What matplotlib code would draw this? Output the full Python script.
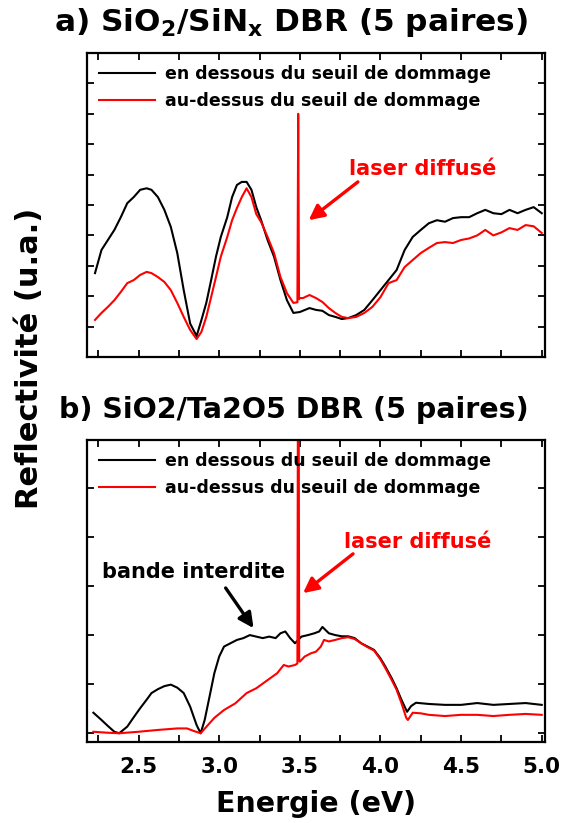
import numpy as np
import matplotlib
matplotlib.use('Agg')
from matplotlib import pyplot as plt
from matplotlib.ticker import MultipleLocator

plt.rcParams['font.family'] = ['DejaVu Sans']
plt.rcParams['font.weight'] = 'bold'
plt.rcParams['mathtext.fontset'] = 'dejavusans'

# a) SiO2/SiNx
a_black_x = [2.23, 2.27, 2.31, 2.35, 2.39, 2.43, 2.47, 2.51, 2.55, 2.58, 2.62, 2.66, 2.70, 2.74,
             2.78, 2.82, 2.86, 2.89, 2.92, 2.95, 2.98, 3.01, 3.05, 3.08, 3.11, 3.14, 3.17, 3.20,
             3.23, 3.26, 3.30, 3.34, 3.38, 3.42, 3.46, 3.50, 3.56, 3.60, 3.64, 3.68, 3.72, 3.76,
             3.80, 3.85, 3.90, 3.95, 4.00, 4.05, 4.10, 4.15, 4.20, 4.25, 4.30, 4.35, 4.40, 4.45,
             4.50, 4.55, 4.60, 4.65, 4.70, 4.75, 4.80, 4.85, 4.90, 4.95, 5.00]
a_black_y = [0.276, 0.352, 0.385, 0.418, 0.46, 0.506, 0.526, 0.55, 0.555, 0.55, 0.526, 0.484, 0.428, 0.342,
             0.22, 0.11, 0.069, 0.122, 0.178, 0.253, 0.33, 0.395, 0.46, 0.526, 0.566, 0.576, 0.576, 0.55,
             0.493, 0.45, 0.385, 0.33, 0.253, 0.187, 0.145, 0.148, 0.161, 0.155, 0.152, 0.138, 0.132, 0.125,
             0.128, 0.138, 0.155, 0.187, 0.22, 0.253, 0.286, 0.352, 0.395, 0.418, 0.44, 0.45, 0.445, 0.457,
             0.46, 0.46, 0.473, 0.484, 0.473, 0.47, 0.484, 0.473, 0.484, 0.493, 0.473]

a_red_x = [2.23, 2.27, 2.31, 2.35, 2.39, 2.43, 2.47, 2.51, 2.55, 2.58, 2.62, 2.66, 2.70, 2.74,
           2.78, 2.82, 2.86, 2.89, 2.92, 2.95, 2.98, 3.01, 3.05, 3.08, 3.11, 3.14, 3.17, 3.20,
           3.23, 3.26, 3.30, 3.34, 3.38, 3.42, 3.46, 3.485, 3.49, 3.495, 3.50, 3.52, 3.56, 3.60,
           3.64, 3.68, 3.72, 3.76, 3.80, 3.85, 3.90, 3.95, 4.00, 4.05, 4.10, 4.15, 4.20, 4.25,
           4.30, 4.35, 4.40, 4.45, 4.50, 4.55, 4.60, 4.65, 4.70, 4.75, 4.80, 4.85, 4.90, 4.95, 5.00]
a_red_y = [0.122, 0.145, 0.165, 0.187, 0.214, 0.243, 0.253, 0.27, 0.28, 0.276, 0.263, 0.247, 0.22, 0.178,
           0.132, 0.089, 0.059, 0.083, 0.132, 0.197, 0.263, 0.33, 0.395, 0.45, 0.49, 0.526, 0.555, 0.526,
           0.47, 0.444, 0.395, 0.342, 0.263, 0.21, 0.178, 0.18, 0.80, 0.19, 0.194, 0.194, 0.204, 0.194,
           0.181, 0.161, 0.145, 0.132, 0.128, 0.132, 0.145, 0.165, 0.197, 0.243, 0.253, 0.296, 0.319, 0.342,
           0.359, 0.375, 0.378, 0.375, 0.385, 0.39, 0.40, 0.418, 0.40, 0.41, 0.424, 0.418, 0.434, 0.43, 0.408]

# b) SiO2/Ta2O5
b_black_x = [2.22, 2.27, 2.31, 2.35, 2.38, 2.43, 2.47, 2.51, 2.55, 2.58, 2.62, 2.66, 2.70, 2.74,
             2.78, 2.82, 2.86, 2.885, 2.91, 2.94, 2.97, 3.00, 3.03, 3.07, 3.11, 3.15, 3.19, 3.23,
             3.27, 3.31, 3.35, 3.38, 3.41, 3.44, 3.47, 3.51, 3.55, 3.59, 3.62, 3.64, 3.68, 3.72,
             3.76, 3.80, 3.84, 3.88, 3.92, 3.96, 4.00, 4.03, 4.07, 4.10, 4.13, 4.165, 4.19, 4.22,
             4.30, 4.40, 4.50, 4.60, 4.70, 4.80, 4.90, 5.00]
b_black_y = [0.097, 0.073, 0.053, 0.034, 0.029, 0.051, 0.082, 0.112, 0.14, 0.162, 0.175, 0.185, 0.19, 0.18,
             0.162, 0.117, 0.056, 0.029, 0.073, 0.15, 0.228, 0.283, 0.316, 0.327, 0.338, 0.344, 0.354, 0.349,
             0.344, 0.349, 0.344, 0.36, 0.366, 0.344, 0.327, 0.349, 0.354, 0.36, 0.366, 0.381, 0.36, 0.354,
             0.35, 0.35, 0.344, 0.327, 0.316, 0.305, 0.277, 0.25, 0.211, 0.178, 0.14, 0.10, 0.119, 0.13,
             0.126, 0.123, 0.123, 0.129, 0.123, 0.126, 0.129, 0.123]

b_red_x = [2.22, 2.30, 2.38, 2.50, 2.62, 2.74, 2.80, 2.84, 2.885, 2.92, 2.97, 3.03, 3.10, 3.17,
           3.23, 3.30, 3.36, 3.40, 3.43, 3.47, 3.485, 3.488, 3.493, 3.496, 3.50, 3.53, 3.57, 3.60,
           3.63, 3.65, 3.68, 3.72, 3.76, 3.80, 3.84, 3.88, 3.92, 3.96, 4.00, 4.03, 4.07, 4.10,
           4.13, 4.16, 4.17, 4.20, 4.25, 4.30, 4.40, 4.50, 4.60, 4.70, 4.80, 4.90, 5.00]
b_red_y = [0.034, 0.031, 0.029, 0.034, 0.04, 0.045, 0.045, 0.037, 0.029, 0.05, 0.08, 0.106, 0.128, 0.162,
           0.178, 0.205, 0.228, 0.255, 0.25, 0.255, 0.26, 1.1, 1.1, 0.27, 0.266, 0.283, 0.294, 0.299,
           0.316, 0.338, 0.333, 0.338, 0.344, 0.347, 0.341, 0.327, 0.314, 0.303, 0.273, 0.245, 0.205, 0.173,
           0.129, 0.08, 0.073, 0.097, 0.095, 0.09, 0.086, 0.09, 0.09, 0.086, 0.09, 0.093, 0.09]

label_black = 'en dessous du seuil de dommage'
label_red = 'au-dessus du seuil de dommage'
red = '#ff0000'

fig = plt.figure(figsize=(5.61, 8.23), dpi=100)
ax1 = fig.add_axes([0.155, 0.5662, 0.8164, 0.3694])
ax2 = fig.add_axes([0.155, 0.0984, 0.8164, 0.367])

ax1.plot(a_black_x, a_black_y, color='black', lw=1.5, label=label_black)
ax1.plot(a_red_x, a_red_y, color=red, lw=1.5, label=label_red)
ax2.plot(b_black_x, b_black_y, color='black', lw=1.5, label=label_black)
ax2.plot(b_red_x, b_red_y, color=red, lw=1.5, label=label_red)

for ax in (ax1, ax2):
    ax.set_xlim(2.18, 5.02)
    ax.set_ylim(0, 1)
    ax.xaxis.set_major_locator(MultipleLocator(0.5))
    ax.xaxis.set_minor_locator(MultipleLocator(0.25))
    ax.tick_params(which='both', direction='in', top=True, right=True, length=5, width=1.3,
                   labelsize=15.5, pad=11)
    for s in ax.spines.values():
        s.set_linewidth(1.6)
    ax.legend(loc='upper left', frameon=False, prop={'weight': 'bold', 'size': 12.5},
              handlelength=3.2, handletextpad=0.6, borderaxespad=0.3, labelspacing=0.5)

ax1.set_yticks(np.arange(0.1, 1.0, 0.1))
ax1.set_yticklabels([])
ax1.set_xticklabels([])
ax2.set_yticks(np.arange(0.03, 1.0, 0.162))
ax2.set_yticklabels([])
ax2.set_xlabel('Energie (eV)', fontsize=20.5, fontweight='bold', labelpad=9)

fig.text(0.052, 0.565, 'Reflectivité (u.a.)', rotation=90, ha='center', va='center',
         fontsize=22, fontweight='bold')
fig.text(0.518, 0.973, r'a) SiO$_\mathbf{2}$/SiN$_\mathbf{x}$ DBR (5 paires)', ha='center', va='center',
         fontsize=22.5, fontweight='bold')
fig.text(0.523, 0.502, 'b) SiO2/Ta2O5 DBR (5 paires)', ha='center', va='center',
         fontsize=20.5, fontweight='bold')

arrow_kw = dict(arrowstyle='-|>,head_length=0.9,head_width=0.45', lw=2.4, shrinkA=0, shrinkB=0)

# a) laser annotation
ax1.text(4.26, 0.62, 'laser diffusé', color=red, fontsize=15, fontweight='bold',
         ha='center', va='center')
ax1.annotate('', xy=(3.555, 0.45), xytext=(3.86, 0.576),
             arrowprops=dict(color=red, **arrow_kw))

# b) annotations
ax2.text(4.23, 0.662, 'laser diffusé', color=red, fontsize=15, fontweight='bold',
         ha='center', va='center')
ax2.annotate('', xy=(3.52, 0.493), xytext=(3.83, 0.623),
             arrowprops=dict(color=red, **arrow_kw))
ax2.text(2.84, 0.563, 'bande interdite', color='black', fontsize=15, fontweight='bold',
         ha='center', va='center')
ax2.annotate('', xy=(3.213, 0.377), xytext=(3.04, 0.51),
             arrowprops=dict(color='black', **arrow_kw))

fig.savefig('out.png', dpi=100)
